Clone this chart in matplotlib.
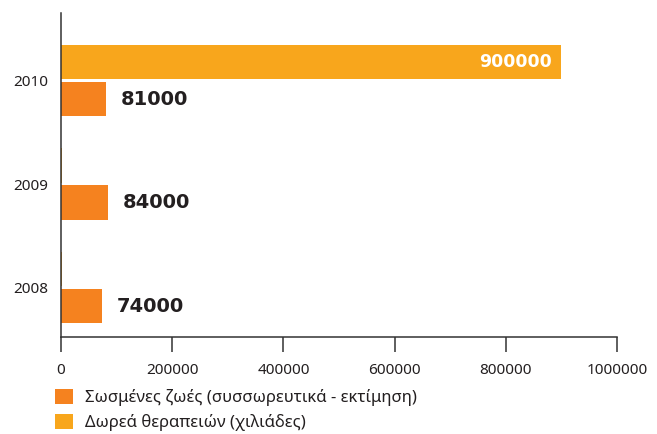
import matplotlib
matplotlib.use("Agg")
import matplotlib.pyplot as plt
from matplotlib.patches import Patch
import numpy as np

plt.rcParams['font.family'] = ['Noto Sans', 'DejaVu Sans']

years = ["2008", "2009", "2010"]
lives_saved = [74000, 84000, 81000]
treatments = [1500, 1500, 900000]
series_names = ["Σωσμένες ζωές (συσσωρευτικά - εκτίμηση)", "Δωρεά θεραπειών (χιλιάδες)"]
x_ticks = [0, 200000, 400000, 600000, 800000, 1000000]

c_orange = "#F5821F"
c_yellow = "#F8A61C"
dark = "#333333"

fig = plt.figure(figsize=(6.57, 4.34), dpi=100)
ax = fig.add_axes([61/657, (434-337)/434, (617-61)/657, (337-13)/434])

pos = np.arange(len(years))
h = 0.33
off = 0.179
ax.barh(pos - off, lives_saved, height=h, color=c_orange)
ax.barh(pos + off, treatments, height=h, color=c_yellow)

for p, v in zip(pos, lives_saved):
    ax.annotate(f"{v}", xy=(v, p - off), xytext=(10.8, 0), textcoords="offset points",
                ha="left", va="center", fontsize=14, fontweight="bold", color="#231F20",
                family=["DejaVu Sans"])
for p, v in zip(pos, treatments):
    if v > 100000:
        ax.annotate(f"{v}", xy=(v, p + off), xytext=(-6.5, 0), textcoords="offset points",
                    ha="right", va="center", fontsize=12.5, fontweight="bold", color="white",
                    family=["DejaVu Sans"])

ax.set_xlim(0, 1000000)
ax.set_ylim(-0.478, 2.652)
ax.set_xticks(x_ticks)
ax.set_xticklabels([str(t) for t in x_ticks], fontsize=11, color="#231F20")
ax.set_yticks(pos)
ax.set_yticklabels(years, fontsize=11, color="#231F20")
ax.tick_params(axis="x", length=10.8, width=1.1, color=dark, pad=8)
ax.tick_params(axis="y", length=0, pad=9.4)
for s in ["top", "right"]:
    ax.spines[s].set_visible(False)
for s in ["left", "bottom"]:
    ax.spines[s].set_color(dark)
    ax.spines[s].set_linewidth(1.1)

handles = [Patch(facecolor=c_orange, edgecolor="none"), Patch(facecolor=c_yellow, edgecolor="none")]
fig.legend(handles, series_names, loc="upper left", bbox_to_anchor=(55/657, 1 - 389/434),
           frameon=False, fontsize=12, handlelength=1.05, handleheight=1.05,
           handletextpad=0.75, labelspacing=0.45, borderpad=0, borderaxespad=0,
           labelcolor="#231F20")

fig.savefig("out.png", dpi=100)
